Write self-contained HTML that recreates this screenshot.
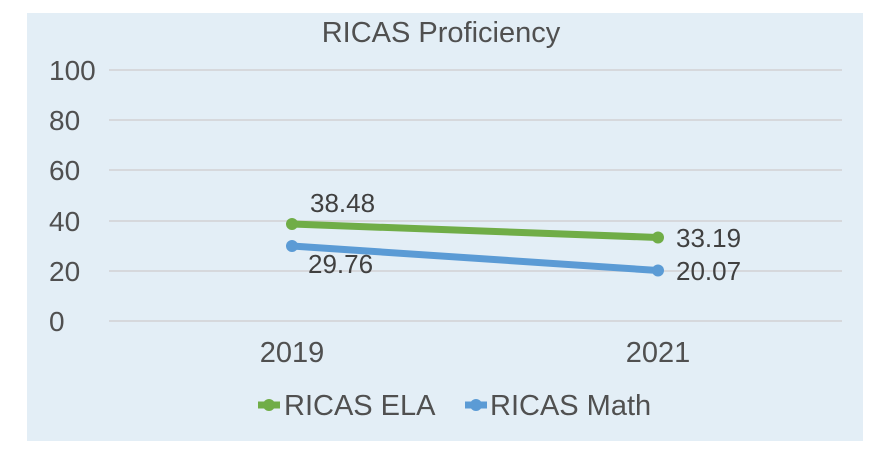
<!DOCTYPE html>
<html><head><style>
html,body{margin:0;padding:0;background:#fff;width:886px;height:462px;overflow:hidden}
</style></head><body>
<svg width="886" height="462" xmlns="http://www.w3.org/2000/svg" font-family="Liberation Sans, sans-serif">
<rect x="0" y="0" width="886" height="462" fill="#fff"/>
<rect x="27" y="13" width="836" height="428" fill="#e3eef6"/>
<text x="441" y="42" font-size="29" fill="#505050" text-anchor="middle">RICAS Proficiency</text>
<g stroke="#d6d8dc" stroke-width="2">
<line x1="109" y1="70" x2="842" y2="70"/>
<line x1="109" y1="120" x2="842" y2="120"/>
<line x1="109" y1="170" x2="842" y2="170"/>
<line x1="109" y1="221" x2="842" y2="221"/>
<line x1="109" y1="271" x2="842" y2="271"/>
<line x1="109" y1="321" x2="842" y2="321"/>
</g>
<g font-size="28" fill="#505050" text-anchor="start">
<text x="49" y="80">100</text>
<text x="49" y="130">80</text>
<text x="49" y="180">60</text>
<text x="49" y="231">40</text>
<text x="49" y="281">20</text>
<text x="49" y="331">0</text>
</g>
<g font-size="29" fill="#505050" text-anchor="middle">
<text x="292" y="362">2019</text>
<text x="658" y="362">2021</text>
</g>
<line x1="292" y1="224" x2="658" y2="237.5" stroke="#70ad47" stroke-width="7" stroke-linecap="round"/>
<circle cx="292" cy="224" r="6" fill="#70ad47"/><circle cx="658" cy="237.5" r="6" fill="#70ad47"/>
<line x1="292" y1="246" x2="658" y2="270.5" stroke="#5b9bd5" stroke-width="7" stroke-linecap="round"/>
<circle cx="292" cy="246" r="6" fill="#5b9bd5"/><circle cx="658" cy="270.5" r="6" fill="#5b9bd5"/>
<g font-size="26" fill="#404040">
<text x="310" y="212">38.48</text>
<text x="676" y="247">33.19</text>
<text x="308" y="273">29.76</text>
<text x="676" y="280">20.07</text>
</g>
<line x1="258" y1="405" x2="280" y2="405" stroke="#70ad47" stroke-width="7"/>
<circle cx="269" cy="405" r="6" fill="#70ad47"/>
<text x="284" y="415" font-size="29" fill="#505050">RICAS ELA</text>
<line x1="465" y1="405" x2="487" y2="405" stroke="#5b9bd5" stroke-width="7"/>
<circle cx="476" cy="405" r="6" fill="#5b9bd5"/>
<text x="490" y="415" font-size="29" fill="#505050">RICAS Math</text>
</svg>
</body></html>
